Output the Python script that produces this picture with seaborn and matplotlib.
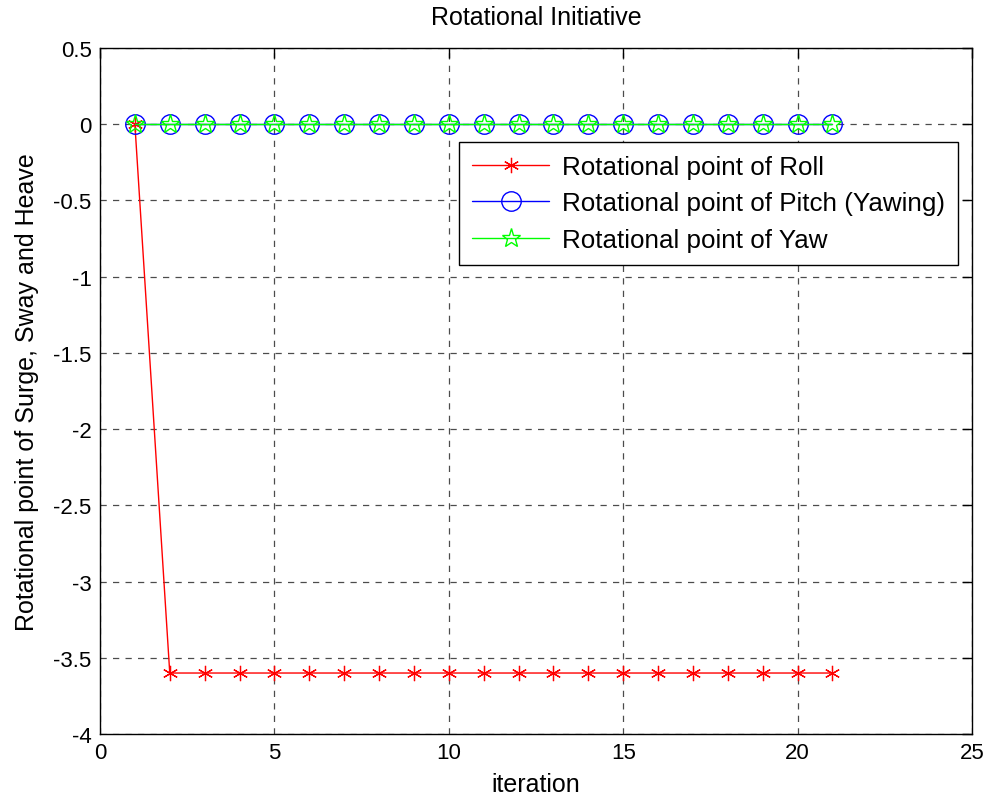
import numpy as np
import pandas as pd
import seaborn as sns
import matplotlib
matplotlib.use('Agg')
import matplotlib.pyplot as plt

iteration = list(range(1, 22))
roll = [0.0] + [-3.6] * 20
pitch = [0.0] * 21
yaw = [0.0] * 21

sns.set_style('white')
plt.rcParams['font.family'] = ['Liberation Sans', 'DejaVu Sans']
plt.rcParams['text.color'] = 'black'
plt.rcParams['axes.labelcolor'] = 'black'
plt.rcParams['xtick.color'] = 'black'
plt.rcParams['ytick.color'] = 'black'

fig = plt.figure(figsize=(9.87, 8.03), dpi=100)
ax = fig.add_axes([100 / 987, (803 - 735) / 803, 872 / 987, 686 / 803])

df = pd.DataFrame({'iteration': iteration, 'roll': roll, 'pitch': pitch, 'yaw': yaw})

sns.lineplot(data=df, x='iteration', y='roll', ax=ax, color='red', marker=(6, 2, 0),
             markersize=11, markeredgewidth=0.9, markeredgecolor='red', linewidth=1,
             label='Rotational point of Roll')
sns.lineplot(data=df, x='iteration', y='pitch', ax=ax, color='blue', marker='o',
             markersize=14, markerfacecolor='none', markeredgecolor='blue',
             markeredgewidth=1, linewidth=1, label='Rotational point of Pitch (Yawing)')
sns.lineplot(data=df, x='iteration', y='yaw', ax=ax, color='#00ff00', marker='*',
             markersize=14, markerfacecolor='none', markeredgecolor='#00ff00',
             markeredgewidth=1, linewidth=1, label='Rotational point of Yaw')

ax.set_xlim(0, 25)
ax.set_ylim(-4, 0.5)
ax.set_xticks(np.arange(0, 26, 5))
ax.set_yticks(np.arange(-4, 0.51, 0.5))
ax.set_yticklabels(['-4', '-3.5', '-3', '-2.5', '-2', '-1.5', '-1', '-0.5', '0', '0.5'])
ax.tick_params(direction='in', length=7, width=1, top=True, right=True, labelsize=16, pad=6)
ax.grid(True, color='black', linestyle=(0, (5, 5)), linewidth=0.9, alpha=0.7)
for s in ax.spines.values():
    s.set_color('black')
    s.set_linewidth(1)

ax.set_title('Rotational Initiative', fontsize=18, pad=17)
ax.set_xlabel('iteration', fontsize=18, labelpad=6)
ax.set_ylabel('Rotational point of Surge, Sway and Heave', fontsize=18, labelpad=10)

leg = ax.legend(loc='upper right', bbox_to_anchor=(0.984, 0.863), borderaxespad=0,
                fontsize=18.7, frameon=True, fancybox=False, framealpha=1, edgecolor='black',
                handlelength=2.95, handletextpad=0.5, borderpad=0.5, labelspacing=0.48)
leg.get_frame().set_linewidth(1)

plt.savefig('out.png', dpi=100)
